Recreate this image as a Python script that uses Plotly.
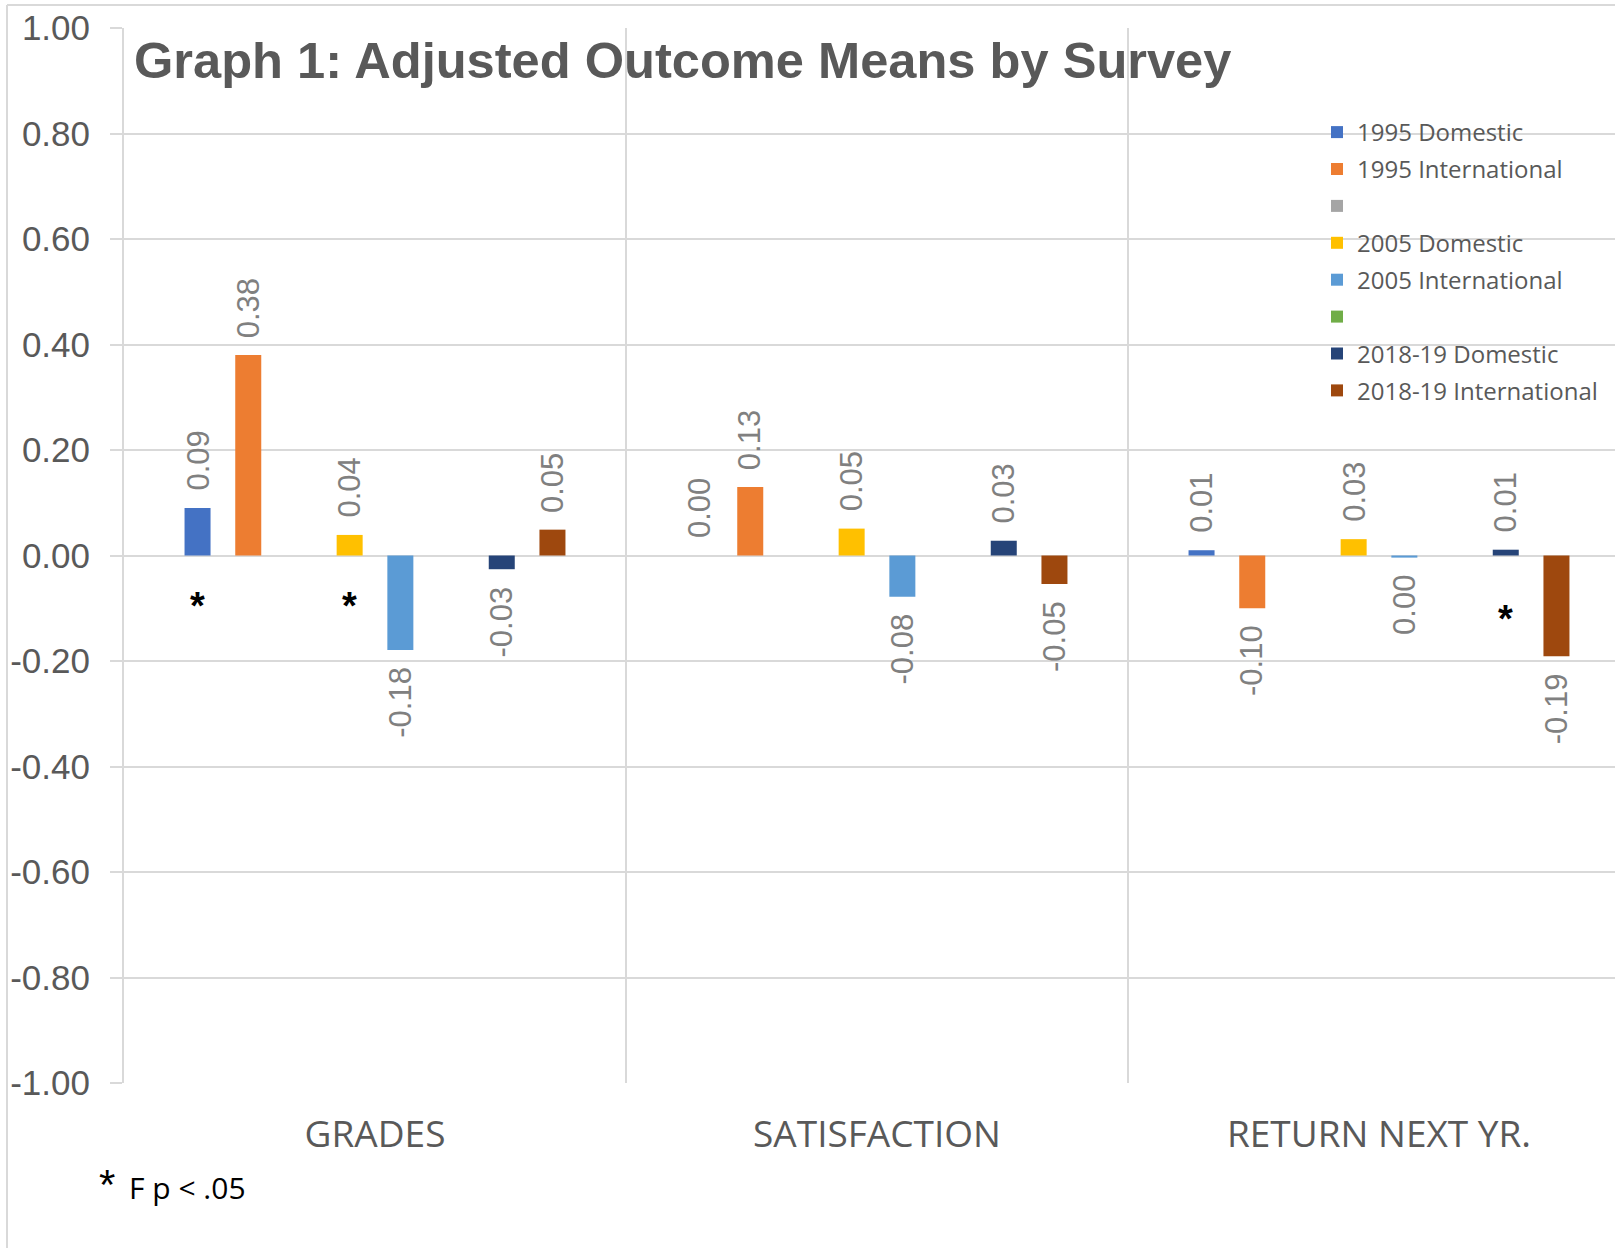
import plotly.graph_objects as go

# ---------------- data ----------------
categories = ["GRADES", "SATISFACTION", "RETURN NEXT YR."]
series_names = ["1995 Domestic", "1995 International", "", "2005 Domestic",
                "2005 International", "", "2018-19 Domestic", "2018-19 International"]
series_colors = ["#4472C4", "#ED7D31", "#A5A5A5", "#FFC000",
                 "#5B9BD5", "#70AD47", "#264478", "#9E480E"]

dom_1995 = [0.09, 0.0, 0.010]
int_1995 = [0.38, 0.13, -0.10]
blank_a = [None, None, None]
dom_2005 = [0.039, 0.051, 0.031]
int_2005 = [-0.179, -0.078, -0.004]
blank_b = [None, None, None]
dom_2018 = [-0.026, 0.028, 0.011]
int_2018 = [0.049, -0.054, -0.191]

# significance markers (category index, series index, asterisk height)
sig_category = [0, 0, 2]
sig_series = [0, 3, 6]
sig_y = [-0.089, -0.089, -0.113]

y_ticks = [-1.0, -0.8, -0.6, -0.4, -0.2, 0.0, 0.2, 0.4, 0.6, 0.8, 1.0]

title_text = "Graph 1: Adjusted Outcome Means by Survey"
footnote_star = "*"
footnote_text = "F p < .05"

# ---------------- layout constants ----------------
W, H = 1615, 1248
ML, MR, MT, MB = 124, 0, 28, 165
PLOT_W = W - ML - MR
PLOT_H = H - MT - MB
CAT_PX = 502.0
BARGAP = 0.192
BARGROUPGAP = 0.487
GRID = "#D9D9D9"
TXT = "#595959"
LBL = "#808080"
NUM_FONT = "Liberation Sans Narrow, Liberation Sans, Arial"

series_values = [dom_1995, int_1995, blank_a, dom_2005, int_2005, blank_b, dom_2018, int_2018]
n_series = len(series_values)


def slot_offset(i):
    return (1 - BARGAP) * ((i + 0.5) / n_series - 0.5)


def px_x(px):
    return (px - ML) / PLOT_W


def px_y(py):
    return 1 - (py - MT) / PLOT_H


fig = go.Figure()
for i, (name, vals, col) in enumerate(zip(series_names, series_values, series_colors)):
    fig.add_trace(go.Bar(
        x=categories, y=vals, name=name,
        marker=dict(color=col, line=dict(width=0)),
        legendgroup="g%d" % i, showlegend=True,
    ))

# data labels
for i, vals in enumerate(series_values):
    for c, v in enumerate(vals):
        if v is None:
            continue
        label = "%.2f" % v
        if label == "-0.00":
            label = "0.00"
        up = v >= 0
        fig.add_annotation(
            x=c + slot_offset(i), y=v, xref="x", yref="y",
            text=label, textangle=-90, showarrow=False,
            xanchor="center",
            yanchor="bottom" if up else "top",
            yshift=15 if up else -15,
            font=dict(family=NUM_FONT, size=31, color=LBL),
        )

# significance asterisks
for c, s, yv in zip(sig_category, sig_series, sig_y):
    fig.add_annotation(
        x=c + slot_offset(s), y=yv, xref="x", yref="y",
        text="*", showarrow=False, xanchor="center", yanchor="middle",
        yshift=-4,
        font=dict(family="Liberation Sans", size=38, color="black", weight="bold"),
    )

# footnote
fig.add_annotation(x=px_x(107), y=px_y(1184), xref="paper", yref="paper",
                   text=footnote_star, showarrow=False, xanchor="center", yanchor="middle",
                   font=dict(family="Liberation Sans", size=42, color="black"))
fig.add_annotation(x=px_x(127), y=px_y(1187), xref="paper", yref="paper",
                   text=footnote_text, showarrow=False, xanchor="left", yanchor="middle",
                   font=dict(family="Open Sans", size=30, color="black"))

# chart border (top and left edges)
fig.add_shape(type="line", xref="paper", yref="paper",
              x0=px_x(7), x1=px_x(W + 5), y0=px_y(5), y1=px_y(5),
              line=dict(color=GRID, width=2))
fig.add_shape(type="line", xref="paper", yref="paper",
              x0=px_x(7), x1=px_x(7), y0=px_y(5), y1=px_y(H + 5),
              line=dict(color=GRID, width=2))

fig.update_layout(
    width=W, height=H,
    margin=dict(l=ML, r=MR, t=MT, b=MB, autoexpand=False),
    paper_bgcolor="white", plot_bgcolor="white",
    barmode="group", bargap=BARGAP, bargroupgap=BARGROUPGAP,
    title=dict(text=title_text, x=134 / W, xref="container", xanchor="left",
               y=1 - 60 / H, yref="container", yanchor="middle",
               font=dict(family="Liberation Sans", size=50.6, color=TXT, weight="bold")),
    legend=dict(x=px_x(1317), xanchor="left", y=px_y(110), yanchor="top",
                bgcolor="rgba(0,0,0,0)", borderwidth=0,
                font=dict(family="Open Sans", size=24, color=TXT),
                traceorder="grouped", tracegroupgap=2.7),
    xaxis=dict(type="category", range=[-0.5, -0.5 + PLOT_W / CAT_PX],
               showgrid=True, tickson="boundaries", gridcolor=GRID, gridwidth=2,
               ticks="", showline=False, zeroline=False,
               tickfont=dict(family="Open Sans", size=37, color=TXT),
               ticklabelstandoff=26),
    yaxis=dict(range=[-1, 1], tickmode="array", tickvals=y_ticks,
               ticktext=["%.2f" % v for v in y_ticks],
               showgrid=True, gridcolor=GRID, gridwidth=2,
               zeroline=True, zerolinecolor=GRID, zerolinewidth=2,
               showline=True, linecolor=GRID, linewidth=2,
               ticks="outside", ticklen=12, tickcolor=GRID, tickwidth=2,
               ticklabelstandoff=13,
               tickfont=dict(family=NUM_FONT, size=35, color=TXT)),
)

fig.write_html("out.html",
               config={"displayModeBar": False},
               post_script="document.body.style.margin='0';document.body.style.overflow='hidden';")
